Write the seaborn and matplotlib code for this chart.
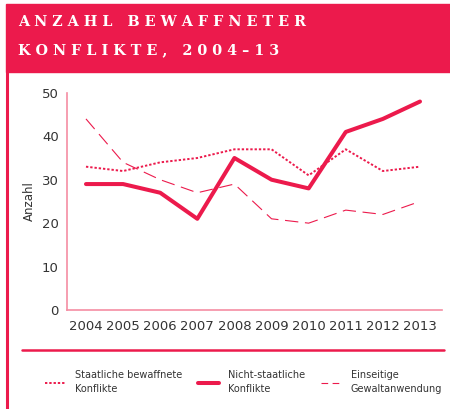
import pandas as pd
import seaborn as sns
import matplotlib.pyplot as plt
from matplotlib.lines import Line2D

years = [2004, 2005, 2006, 2007, 2008, 2009, 2010, 2011, 2012, 2013]
staatlich = [33, 32, 34, 35, 37, 37, 31, 37, 32, 33]
nicht_staatlich = [29, 29, 27, 21, 35, 30, 28, 41, 44, 48]
einseitig = [44, 34, 30, 27, 29, 21, 20, 23, 22, 25]
labels = ["Staatliche bewaffnete\nKonflikte", "Nicht-staatliche\nKonflikte",
          "Einseitige\nGewaltanwendung"]
title_lines = ["ANZAHL BEWAFFNETER", "KONFLIKTE, 2004–13"]

RED = "#EC1A4C"
PINK = "#F58DA3"


def spaced(s):
    # wide letter tracking like the original header
    return " ".join(s)


def main():
    sns.set_theme(style="white")
    plt.rcParams['font.family'] = ['DejaVu Sans']

    df = pd.DataFrame({
        "Jahr": years * 3,
        "Anzahl": staatlich + nicht_staatlich + einseitig,
        "Serie": [labels[0]] * 10 + [labels[1]] * 10 + [labels[2]] * 10,
    })

    fig = plt.figure(figsize=(4.5, 4.09), dpi=100)
    ax = fig.add_axes([0.149, 0.242, 0.833, 0.531])

    widths = {labels[0]: 1.4, labels[1]: 2.9, labels[2]: 0.8}
    dashes = {labels[0]: (1.2, 1.0), labels[1]: "", labels[2]: (12, 6)}
    for name in labels:
        sub = df[df["Serie"] == name]
        sns.lineplot(data=sub, x="Jahr", y="Anzahl", ax=ax, color=RED,
                     linewidth=widths[name], dashes=False, legend=False)
        line = ax.lines[-1]
        if dashes[name]:
            line.set_dashes(dashes[name])

    ax.set_xlim(2003.49, 2013.59)
    ax.set_ylim(0, 50)
    ax.set_xticks(years)
    ax.set_xticklabels([str(y) for y in years])
    ax.set_yticks([0, 10, 20, 30, 40, 50])
    ax.set_xlabel("")
    ax.set_ylabel("Anzahl", fontsize=8.5, color="#333333", labelpad=4)
    sns.despine(ax=ax)
    for s in ["left", "bottom"]:
        ax.spines[s].set_color(PINK)
        ax.spines[s].set_linewidth(1.2)
    ax.tick_params(axis="both", colors=PINK, length=4, width=1,
                   labelcolor="#333333", labelsize=9.5, pad=2, direction="out")
    ax.tick_params(axis="x", pad=3)

    # header band
    fig.patches.append(plt.Rectangle((0.013, 0.824), 0.987, 0.166,
                                     transform=fig.transFigure, color=RED,
                                     zorder=0))
    for i, t in enumerate(title_lines):
        fig.text(0.04, 0.945 - i * 0.068, spaced(t), color="white",
                 fontsize=10.4, fontweight="bold", family="DejaVu Serif",
                 va="center", ha="left")

    # left border and separator
    fig.lines.append(Line2D([0.016, 0.016], [0.0, 0.824],
                            transform=fig.transFigure, color=RED, linewidth=2.2))
    fig.lines.append(Line2D([0.049, 0.987], [0.144, 0.144],
                            transform=fig.transFigure, color=RED, linewidth=1.8))

    handles = [Line2D([], [], color=RED, linewidth=widths[n])
               for n in labels]
    handles[0].set_dashes(dashes[labels[0]])
    handles[2].set_dashes((6, 4))
    leg = fig.legend(handles, labels, loc="upper left", ncol=3,
                     bbox_to_anchor=(0.1, 0.096), frameon=False, fontsize=7,
                     handlelength=2.2, handletextpad=0.9, columnspacing=1.6,
                     labelcolor="#333333", borderaxespad=0, borderpad=0)
    for txt in leg.get_texts():
        txt.set_linespacing(1.55)

    fig.savefig("out.png", dpi=100)


if __name__ == "__main__":
    main()
